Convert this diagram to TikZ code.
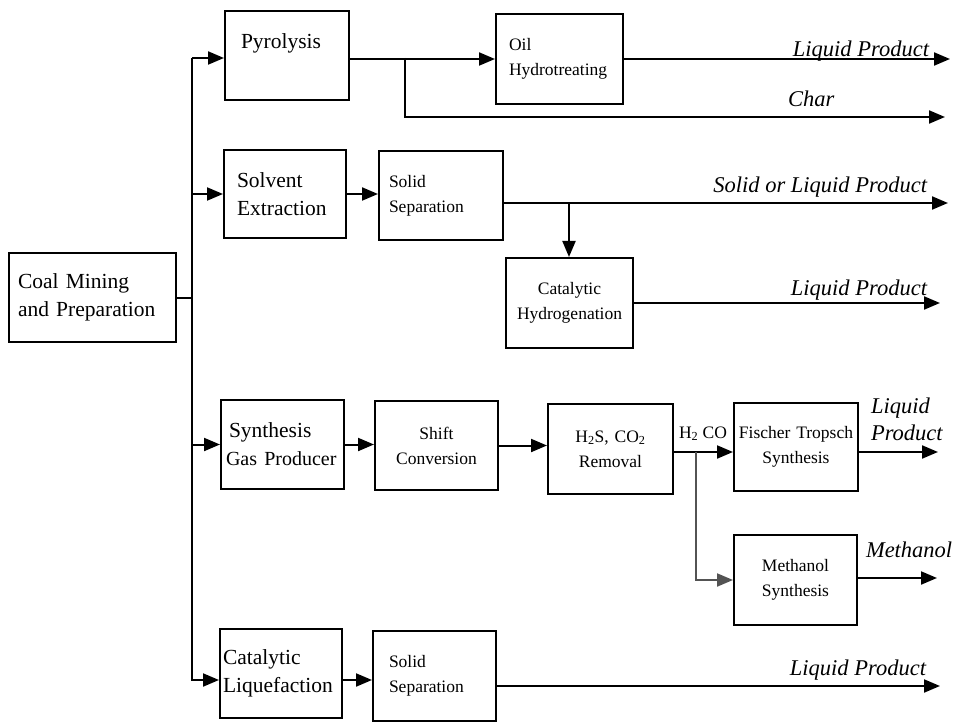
\documentclass[tikz,border=0pt]{standalone}
\usepackage{fontspec}
\setmainfont{Liberation Serif}
\usetikzlibrary{arrows.meta}
\begin{document}
\begin{tikzpicture}[x=1pt,y=-1pt,
  line width=2pt,
  flow/.style={-{Triangle[length=16pt,width=13pt]}, line width=2pt},
  bigt/.style={font=\fontsize{21.5}{28}\selectfont},
  smallt/.style={font=\fontsize{17.5}{25}\selectfont},
  lab/.style={font=\fontsize{22.5}{27}\selectfont\itshape, inner sep=0pt},
  box/.style={draw, line width=2pt, anchor=north west, align=left, inner ysep=0pt},
  cbox/.style={draw, line width=2pt, anchor=north west, align=center, inner ysep=0pt},
]
\useasboundingbox (0,0) rectangle (953,722);

% boxes
\node[box,bigt,inner xsep=9pt,text width=149pt,minimum height=89pt] (coal) at (8,252) {Coal Mining\\and Preparation};
\node[box,bigt,inner xsep=16pt,text width=92pt,minimum height=89pt] (pyro) at (224,10) {Pyrolysis\\\mbox{}};
\node[box,smallt,inner xsep=13pt,text width=101pt,minimum height=90pt] (oil) at (495,13) {Oil\\\mbox{Hydrotreating}};
\node[box,bigt,inner xsep=13pt,text width=96pt,minimum height=88pt] (solv) at (223,149) {Solvent\\Extraction};
\node[box,smallt,inner xsep=10pt,text width=104pt,minimum height=89pt] (ssa) at (378,150) {Solid\\Separation};
\node[cbox,smallt,inner xsep=3pt,text width=121pt,minimum height=90pt] (cathyd) at (505,257) {Catalytic\\Hydrogenation};
\node[box,bigt,inner xsep=5pt,text width=113pt,minimum height=89pt] (synth) at (220,399) {\hspace*{3pt}Synthesis\\\mbox{\fontsize{20}{28}\selectfont Gas Producer}};
\node[cbox,smallt,inner xsep=3pt,text width=117pt,minimum height=89pt] (shift) at (374,400) {Shift\\Conversion};
\node[cbox,smallt,inner xsep=3pt,text width=119pt,minimum height=90pt] (hts) at (547,403) {H\textsubscript{2}S, CO\textsubscript{2}\\Removal};
\node[cbox,smallt,inner xsep=2pt,text width=120pt,minimum height=88pt] (fis) at (733,402) {\mbox{Fischer Tropsch}\\Synthesis};
\node[cbox,smallt,inner xsep=3pt,text width=117pt,minimum height=90pt] (meth) at (733,534) {Methanol\\Synthesis};
\node[box,bigt,inner xsep=3pt,text width=116pt,minimum height=89pt] (catliq) at (219,628) {Catalytic\\\mbox{Liquefaction}};
\node[box,smallt,inner xsep=16pt,text width=91pt,minimum height=90pt] (ssb) at (372,630) {Solid\\Separation};

% coordinates
\coordinate (jt) at (192,58);
\coordinate (jb) at (192,680);
\coordinate (cb) at (405,58);
\coordinate (charend) at (945,117);
\coordinate (e1) at (950,60);
\coordinate (e3) at (948,203);
\coordinate (b3) at (569,203);
\coordinate (e4) at (940,303);
\coordinate (hy) at (0,452);
\coordinate (b5) at (696,452);
\coordinate (e6) at (938,452);
\coordinate (e7) at (937,578);
\coordinate (e8) at (940,686);

% trunk
\draw (coal.east) -- (coal.east -| jt);
\draw[flow] (jt) -- (jb) -- (jb -| catliq.west);
\draw[flow] (jt) -- (jt -| pyro.west);
\draw[flow] (solv.west -| jt) -- (solv.west);
\draw[flow] (synth.west -| jt) -- (synth.west);

% pyrolysis
\draw[flow] (oil.west -| pyro.east) -- (oil.west);
\draw[flow] (cb) -- (cb |- charend) -- (charend);
\draw[flow] (oil.east) -- (oil.east -| e1);

% solvent
\draw[flow] (solv.east) -- (solv.east -| ssa.west);
\draw[flow] (e3 -| ssa.east) -- (e3);
\draw[flow] (b3) -- (b3 |- cathyd.north);
\draw[flow] (cathyd.east) -- (cathyd.east -| e4);

% synthesis gas
\draw[flow] (synth.east) -- (synth.east -| shift.west);
\draw[flow] (shift.east) -- (shift.east -| hts.west);
\draw[flow] (hts.east |- hy) -- (fis.west |- hy);
\draw[flow,color=gray!65!black] (b5) -- (b5 |- meth.west) -- (meth.west);
\draw[flow] (fis.east |- hy) -- (e6);
\draw[flow] (meth.east |- e7) -- (e7);

% catalytic liquefaction
\draw[flow] (jb -| catliq.east) -- (jb -| ssb.west);
\draw[flow] (e8 -| ssb.east) -- (e8);

% labels
\node[lab,anchor=base east] (l1) at (930,57) {Liquid Product};
\node[lab,anchor=base west] (l2) at (787,107) {Char};
\node[lab,anchor=base east] (l3) at (928,193) {Solid or Liquid Product};
\node[lab,anchor=base east] (l4) at (928,295) {Liquid Product};
\node[lab,anchor=north west,align=left] (l5) at (870,397) {Liquid\\Product};
\node[lab,anchor=base west] (l6) at (865,557) {Methanol};
\node[lab,anchor=base east] (l7) at (927,675) {Liquid Product};
\node[smallt,inner sep=0pt,anchor=base west] (l8) at (678,438) {H\textsubscript{2} CO};
\end{tikzpicture}
\end{document}
